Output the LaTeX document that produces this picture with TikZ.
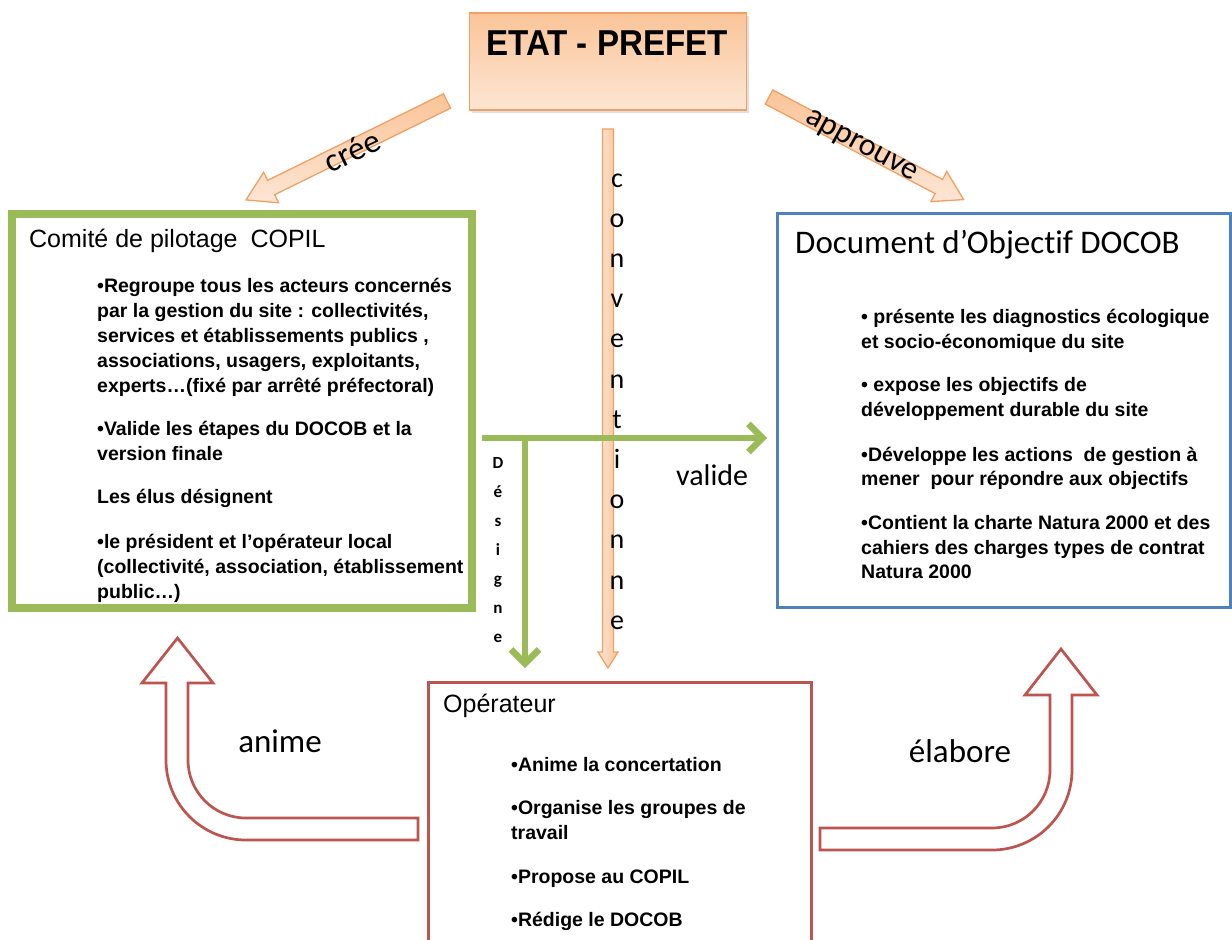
\documentclass[tikz,border=0pt]{standalone}
\usepackage{fontspec}
\setmainfont{Liberation Sans}
\newfontfamily\calib[Ligatures=NoCommon]{Carlito}
\newfontfamily\etatfont[FakeStretch=0.92]{Liberation Sans}
\usetikzlibrary{arrows.meta,shadows,calc}

\definecolor{orfill}{RGB}{250,196,152}
\definecolor{orfilllight}{RGB}{253,230,212}
\definecolor{ordraw}{RGB}{240,160,100}
\definecolor{grn}{RGB}{155,187,89}
\definecolor{blu}{RGB}{79,129,189}
\definecolor{redb}{RGB}{190,84,80}

\newcommand\fsz[2]{\fontsize{#1}{#2}\selectfont}

\begin{document}
\begin{tikzpicture}[x=1pt,y=1pt,
  bodytext/.style={anchor=base west, inner sep=0pt, font=\bfseries\fsz{19.5}{24}},
  boxtitle/.style={anchor=base west, inner sep=0pt, font=\fsz{25}{30}},
  calabel/.style={inner sep=0pt, font=\calib\fsz{33}{38}},
  convletter/.style={anchor=base, inner sep=0pt, font=\calib\fsz{28}{32}},
  desletter/.style={anchor=base, inner sep=0pt, font=\calib\bfseries\fsz{17}{19}},
  orarrow/.style={draw=ordraw, line width=1.3pt, top color=orfill, bottom color=orfilllight, line join=miter},
  grnline/.style={draw=grn, line width=6.5pt, -{Straight Barb[length=14pt,width=28pt]}},
  redarrow/.style={draw=redb, line width=2.7pt, fill=white, line join=miter},
]
\useasboundingbox (0,0) rectangle (1232,-940);
\fill[white] (0,0) rectangle (1232,-940);

% ---------- boxes ----------
\node[draw=ordraw, line width=1.5pt, top color=orfill, bottom color=orfilllight,
      drop shadow={opacity=0.25, shadow xshift=2pt, shadow yshift=-3pt},
      minimum width=277, minimum height=97, inner sep=0pt] (etat) at (608,-61.5) {};
\node[anchor=base, inner sep=0pt, font=\etatfont\bfseries\fsz{36}{40}] (etattxt) at (607,-55) {ETAT - PREFET};

\node[draw=grn, line width=8pt, minimum width=460, minimum height=394, inner sep=0pt] (copil) at (242,-411) {};
\draw[grn, line width=2.5pt] ([shift={(7,-7)}]copil.north west) rectangle ([shift={(-7,7)}]copil.south east);

\node[draw=blu, line width=3pt, minimum width=453, minimum height=394, inner sep=0pt] (docob) at (1003.5,-410) {};

\node[draw=redb, line width=3pt, minimum width=383, minimum height=261, inner sep=0pt] (oper) at (619.5,-812.5) {};

% ---------- orange block arrows ----------
\begin{scope}[shift={(447,-101)}, rotate=206.2]
  \path[orarrow] (0,-8) -- (196,-8) -- (196,-17) -- (224,0) -- (196,17) -- (196,8) -- (0,8) -- cycle;
\end{scope}
\begin{scope}[shift={(769,-97)}, rotate=-27.8]
  \path[orarrow] (0,-8) -- (192,-8) -- (192,-17) -- (220,0) -- (192,17) -- (192,8) -- (0,8) -- cycle;
\end{scope}
\begin{scope}[shift={(608,-129)}, rotate=-90]
  \path[orarrow, left color=orfilllight, right color=orfill] (0,-5.5) -- (523,-5.5) -- (523,-10) -- (539,0) -- (523,10) -- (523,5.5) -- (0,5.5) -- cycle;
\end{scope}

\node[calabel, rotate=25.5] (cree) at (352,-151) {crée};
\node[calabel, font=\calib\fsz{32}{36}, rotate=-29] (approuve) at (861,-147) {approuve};

\foreach \l [count=\i from 0] in {c,o,n,v,e,n,t,i,o,n,n,e}
  \node[convletter] (cv-\i) at (617,{-(187+40.2*\i)}) {\l};

% ---------- green connectors ----------
\coordinate (hs) at (482,-438);
\coordinate (he) at (767,-438);
\coordinate (vj) at (525,-438);
\coordinate (ve) at (525,-668);
\draw[grnline] (hs) -- (he);
\draw[grnline] (vj) -- (ve);
\node[anchor=base west, inner sep=0pt, font=\calib\fsz{30}{34}] (valide) at (676,-485) {valide};
\foreach \l [count=\i from 0] in {D,é,s,i,g,n,e}
  \node[desletter] (ds-\i) at (498,{-(468+29*\i)}) {\l};

% ---------- red curved arrows ----------
\draw[redarrow] (418,-818) -- (246,-818) arc[start angle=-90, end angle=-180, radius=58]
  -- (188,-683) -- (213,-683) -- (177.5,-638) -- (142,-683) -- (166,-683) -- (166,-760)
  arc[start angle=180, end angle=270, radius=80] -- (418,-840) -- cycle;
\draw[redarrow] (820,-828) -- (992,-828) arc[start angle=-90, end angle=0, radius=58]
  -- (1050,-695) -- (1025,-695) -- (1061,-649) -- (1097,-695) -- (1072,-695) -- (1072,-770)
  arc[start angle=0, end angle=-90, radius=80] -- (820,-850) -- cycle;
\node[anchor=base, inner sep=0pt, font=\calib\fsz{33}{38}] (anime) at (280,-752) {anime};
\node[anchor=base, inner sep=0pt, font=\calib\fsz{33}{38}] (elabore) at (960,-762) {élabore};

% ---------- texts ----------
\node[boxtitle] (copiltitle) at (29,-247) {Comité de pilotage\hspace{6pt} COPIL};
\node[boxtitle, font=\calib\fsz{33}{38}] (docobtitle) at (795,-253) {Document d’Objectif DOCOB};
\node[boxtitle] (opertitle) at (443,-712) {Opérateur};

\foreach \y/\t [count=\i] in {
  292/{•Regroupe tous les acteurs concernés},
  317/{par la gestion du site : collectivités,},
  342/{services et établissements publics ,},
  367/{associations, usagers, exploitants,},
  392/{experts…(fixé par arrêté préfectoral)},
  435/{•Valide les étapes du DOCOB et la},
  460/{version finale},
  503/{Les élus désignent},
  548/{•le président et l’opérateur local},
  573/{(collectivité, association, établissement},
  598/{public…)}}
  \node[bodytext] (copil-\i) at (97,-\y) {\t};

\foreach \y/\t [count=\i] in {
  323/{• présente les diagnostics écologique},
  348/{et socio-économique du site},
  391/{• expose les objectifs de},
  416/{développement durable du site},
  461/{•Développe les actions\ \ de gestion à},
  485/{mener\ \ pour répondre aux objectifs},
  529/{•Contient la charte Natura 2000 et des},
  554/{cahiers des charges types de contrat},
  578/{Natura 2000}}
  \node[bodytext] (docob-\i) at (861,-\y) {\t};

\foreach \y/\t [count=\i] in {
  771/{•Anime la concertation},
  814/{•Organise les groupes de},
  839/{travail},
  883/{•Propose au COPIL},
  926/{•Rédige le DOCOB}}
  \node[bodytext] (oper-\i) at (511,-\y) {\t};
\end{tikzpicture}
\end{document}
